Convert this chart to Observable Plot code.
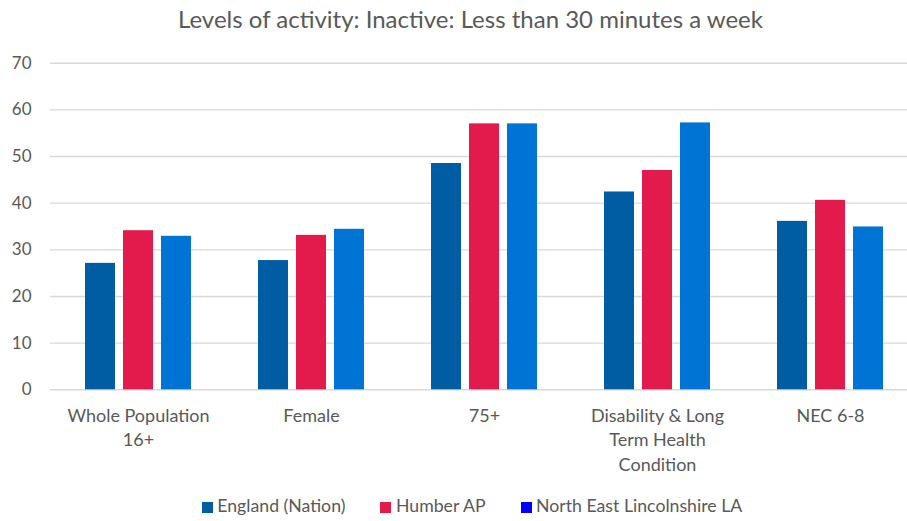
<!DOCTYPE html>
<html>
<head>
<meta charset="utf-8">
<script src="https://cdn.jsdelivr.net/npm/d3@7"></script>
<script src="https://cdn.jsdelivr.net/npm/@observablehq/plot@0.6"></script>
<style>
  html, body { margin: 0; padding: 0; background: #fff; }
  #wrap { position: relative; width: 907px; height: 521px; overflow: hidden; font-family: Lato, "Open Sans", sans-serif; color: #595959; }
  #title { position: absolute; left: 0; width: 941px; top: 7.2px; text-align: center; font-size: 24px; line-height: 24px; white-space: nowrap; }
  #legend { position: absolute; left: 0; width: 944px; top: 497px; display: flex; justify-content: center; font-size: 17.7px; line-height: 18px; white-space: nowrap; }
  .item { display: flex; align-items: center; margin: 0 17.5px; }
  .sw { width: 11px; height: 11px; margin-right: 4.5px; position: relative; top: 1px; }
  .layer { position: absolute; left: 0; top: 0; }
</style>
</head>
<body>
<div id="wrap">
  <div id="grid" class="layer"></div>
  <div id="bars" class="layer"></div>
  <div id="title"></div>
  <div id="legend"></div>
</div>
<script>
const titleText = "Levels of activity: Inactive: Less than 30 minutes a week";
const categories = ["Whole Population 16+", "Female", "75+", "Disability & Long Term Health Condition", "NEC 6-8"];
const tickLabels = ["Whole Population\n16+", "Female", "75+", "Disability & Long\nTerm Health\nCondition", "NEC 6-8"];
const series = ["England (Nation)", "Humber AP", "North East Lincolnshire LA"];
const england = [27.1, 27.7, 48.5, 42.4, 36.1];
const humber = [34.1, 33.1, 57.0, 47.0, 40.6];
const nel = [32.9, 34.4, 57.0, 57.2, 34.9];
const yTicks = [0, 10, 20, 30, 40, 50, 60, 70];
const barColors = ["#005DA4", "#E31B4C", "#0074D4"];
const legendColors = ["#005DA4", "#E31B4C", "#0000FF"];

const valuesBySeries = [england, humber, nel];
const data = [];
categories.forEach((c, i) => {
  series.forEach((s, j) => data.push({category: c, series: s, value: valuesBySeries[j][i]}));
});

const common = {
  width: 907,
  height: 521,
  marginLeft: 50,
  marginRight: -11,
  marginTop: 62.7,
  marginBottom: 131.7,
  style: {fontFamily: "Lato, 'Open Sans', sans-serif", fontSize: "17px", color: "#595959", background: "transparent", overflow: "hidden"},
  y: {domain: [0, 70], label: null}
};

// Layer 1: gridlines and y axis
const gridPlot = Plot.plot({
  ...common,
  marks: [
    Plot.ruleY(yTicks, {stroke: "#D9D9D9", strokeWidth: 1.4}),
    Plot.axisY({ticks: yTicks, tickSize: 0, tickPadding: 19, label: null, fill: "#595959"})
  ]
});

// Layer 2: grouped bars and category labels
const barPlot = Plot.plot({
  ...common,
  fx: {domain: categories, paddingInner: 0.386, paddingOuter: 0.193, label: null},
  x: {domain: series, paddingInner: 0.22, paddingOuter: 0, axis: null},
  y: {domain: [0, 70], label: null, axis: null},
  color: {domain: series, range: barColors},
  marks: [
    Plot.barY(data, {fx: "category", x: "series", y: "value", fill: "series"}),
    Plot.axisFx({anchor: "bottom", tickSize: 0, tickPadding: 15, label: null, lineHeight: 1.35, fontSize: 18,
      tickFormat: d => tickLabels[categories.indexOf(d)], fill: "#595959"})
  ]
});

document.getElementById("grid").appendChild(gridPlot);
document.getElementById("bars").appendChild(barPlot);
document.getElementById("title").textContent = titleText;

const legend = document.getElementById("legend");
series.forEach((s, j) => {
  const item = document.createElement("div");
  item.className = "item";
  const sw = document.createElement("div");
  sw.className = "sw";
  sw.style.background = legendColors[j];
  const label = document.createElement("span");
  label.textContent = s;
  item.appendChild(sw);
  item.appendChild(label);
  legend.appendChild(item);
});
</script>
</body>
</html>
